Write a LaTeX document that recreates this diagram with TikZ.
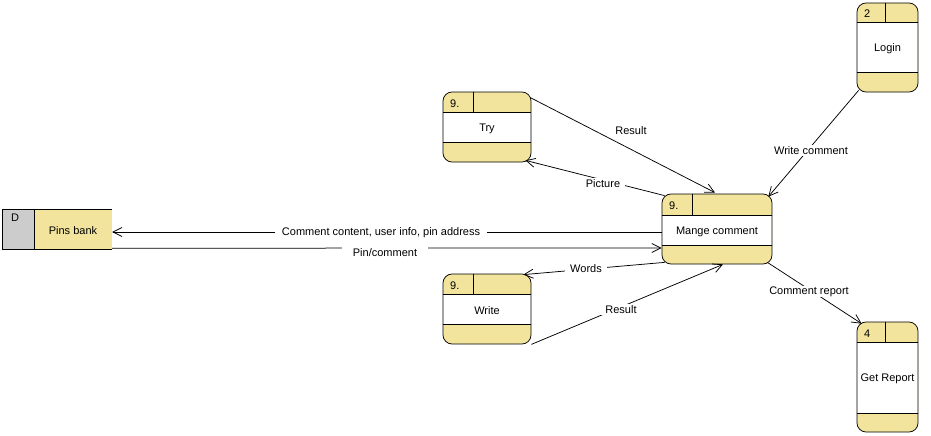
\documentclass[tikz,border=0pt]{standalone}
\usepackage{fontspec}
\setmainfont{Liberation Sans}
\usetikzlibrary{arrows.meta,fit,calc}
\definecolor{procyel}{RGB}{242,228,157}
\definecolor{storegray}{RGB}{204,204,204}
\tikzset{
  flow/.style={draw=black, line width=0.75pt, -{Straight Barb[length=9pt,width=9pt]}},
  flowlabel/.style={fill=white, inner xsep=5pt, inner ysep=1pt, yshift=-1.5pt, font=\fontsize{11}{13}\selectfont},
  boxtext/.style={font=\fontsize{11}{13}\selectfont, inner sep=0pt, yshift=-1.5pt},
  frame/.style={draw=black, line width=0.75pt},
}
\newcommand{\dfdproc}[9]{%
  \fill[procyel, rounded corners=9pt] (#2,#3) rectangle (#4,#5);
  \fill[white] (#2,#6) rectangle (#4,#7);
  \draw[frame] (#2,#6) -- (#4,#6) (#2,#7) -- (#4,#7) (#8,#3) -- (#8,#6);
  \coordinate (#1-nw) at (#2,#3);
  \coordinate (#1-se) at (#4,#5);
  \node[fit=(#1-nw)(#1-se), inner sep=0pt, frame, rounded corners=9pt] (#1) {};
  \node[boxtext, anchor=west] (#1-num) at ({#2+7},{(#3+#6)/2}) {#9};
}
\begin{document}
\begin{tikzpicture}[x=1pt, y=-1pt]
\useasboundingbox (0,0) rectangle (931,436);

% data store
\fill[storegray] (2,209) rectangle (34,249);
\fill[procyel] (34,209) rectangle (112,249);
\draw[frame] (112,209) -- (2,209) -- (2,249) -- (112,249);
\draw[frame] (34,209) -- (34,249);
\coordinate (pins-nw) at (2,209);
\coordinate (pins-se) at (112,249);
\node[fit=(pins-nw)(pins-se), inner sep=0pt] (pins) {};
\node[boxtext, anchor=west] (pins-d) at (11,216) {D};
\node[boxtext] (pins-lbl) at (73,229) {Pins bank};

% processes
\dfdproc{try}{443}{92}{531}{162}{112}{142}{473}{9.}
\node[boxtext] (try-lbl) at (487,127) {Try};
\dfdproc{write}{443}{274}{531}{344}{294}{324}{473}{9.}
\node[boxtext] (write-lbl) at (487,309) {Write};
\dfdproc{mng}{662}{194}{772}{264}{215}{245}{692}{9.}
\node[boxtext] (mng-lbl) at (717,230) {Mange comment};
\dfdproc{login}{857}{3}{918}{92}{22}{72}{885}{2}
\node[boxtext] (login-lbl) at (887.5,47) {Login};
\dfdproc{rep}{857}{322}{918}{432}{342}{413}{885}{4}
\node[boxtext] (rep-lbl) at (887.5,377) {Get Report};

% flows
\draw[flow] ($(mng.west)+(0,3)$) -- ($(pins.east)+(0,3)$);
\draw[flow] ($(pins.south east)+(0,-1)$) -- ($(mng.west)+(0,19)$);
\draw[flow] ($(try.north east)+(-1,6)$) -- ($(mng.north)+(-2,-1)$);
\draw[flow] ($(mng.north west)+(3,2)$) -- ($(try.south east)+(-6,-2)$);
\draw[flow] ($(login.south west)+(2,-2)$) -- ($(mng.north east)+(-4,3)$);
\draw[flow] ($(mng.south east)+(-5,-2)$) -- ($(rep.north west)+(5,2)$);
\draw[flow] ($(mng.south west)+(3,-2)$) -- ($(write.north east)+(-8,1)$);
\draw[flow] (write.south east) -- ($(mng.south)+(6,0)$);

% flow labels
\node[flowlabel, inner xsep=7pt] (l-cc) at (381,231) {Comment content, user info, pin address};
\node[flowlabel, inner xsep=11pt, inner ysep=2.5pt, yshift=1pt] (l-pc) at (385,252) {Pin/comment};
\node[flowlabel] (l-r1) at (631,129) {Result};
\node[flowlabel] (l-pic) at (603,182) {Picture};
\node[flowlabel] (l-wc) at (811,149) {Write comment};
\node[flowlabel] (l-cr) at (809,290) {Comment report};
\node[flowlabel] (l-w) at (586,267) {Words};
\node[flowlabel] (l-r2) at (621,308) {Result};
\end{tikzpicture}
\end{document}
